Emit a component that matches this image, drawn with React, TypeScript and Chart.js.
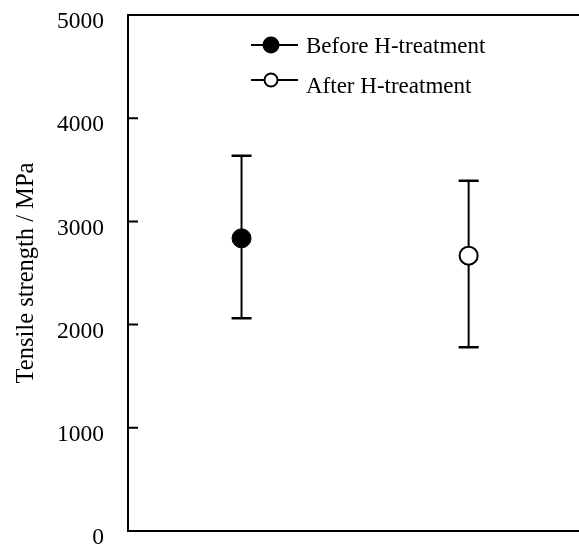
import React, { useEffect, useRef } from 'react';
import { Chart, registerables } from 'chart.js';

Chart.register(...registerables);

// ---- data ----
const seriesNames = ['Before H-treatment', 'After H-treatment'];
const seriesFilled = [true, false];
const xPositions = [1, 2];
const meanValues = [2836, 2668];
const upperValues = [3637, 3394];
const lowerValues = [2061, 1780];
const yTickValues = [0, 1000, 2000, 3000, 4000, 5000];
const yAxisTitle = 'Tensile strength / MPa';

const FONT = '"Liberation Serif", "Times New Roman", serif';
const FONT_SIZE = 23;

const customPlugin = {
  id: 'customDraw',
  beforeDatasetsDraw(chart: any) {
    const ctx = chart.ctx;
    const xs = chart.scales.x;
    const ys = chart.scales.y;
    ctx.save();
    ctx.strokeStyle = '#000';
    xPositions.forEach((xv, i) => {
      const px = xs.getPixelForValue(xv);
      const top = ys.getPixelForValue(upperValues[i]);
      const bot = ys.getPixelForValue(lowerValues[i]);
      ctx.lineWidth = 2;
      ctx.beginPath();
      ctx.moveTo(px, top);
      ctx.lineTo(px, bot);
      ctx.stroke();
      ctx.lineWidth = 2.5;
      ctx.beginPath();
      ctx.moveTo(px - 10, top);
      ctx.lineTo(px + 10, top);
      ctx.moveTo(px - 10, bot);
      ctx.lineTo(px + 10, bot);
      ctx.stroke();
    });
    ctx.restore();
  },
  afterDraw(chart: any) {
    const ctx = chart.ctx;
    const { left, right, top, bottom } = chart.chartArea;
    const ys = chart.scales.y;
    ctx.save();
    ctx.strokeStyle = '#000';
    ctx.lineWidth = 2;
    // frame: left, top, bottom
    ctx.beginPath();
    ctx.moveTo(right + 2, top);
    ctx.lineTo(left, top);
    ctx.lineTo(left, bottom);
    ctx.lineTo(right + 2, bottom);
    ctx.stroke();
    // inner tick marks
    ctx.beginPath();
    yTickValues.forEach((v) => {
      const py = ys.getPixelForValue(v);
      ctx.moveTo(left, py);
      ctx.lineTo(left + 10, py);
    });
    ctx.stroke();

    // axis title
    ctx.fillStyle = '#000';
    ctx.font = `24.5px ${FONT}`;
    ctx.save();
    ctx.translate(33, (top + bottom) / 2);
    ctx.rotate(-Math.PI / 2);
    ctx.textAlign = 'center';
    ctx.textBaseline = 'alphabetic';
    ctx.fillText(yAxisTitle, 0, 0);
    ctx.restore();

    // legend
    ctx.font = `${FONT_SIZE}px ${FONT}`;
    const rowY = [45, 80];
    const textY = [53, 93];
    seriesNames.forEach((name, i) => {
      const y = rowY[i];
      ctx.lineWidth = 2;
      ctx.beginPath();
      ctx.moveTo(left + 123, y);
      ctx.lineTo(left + 170, y);
      ctx.stroke();
      ctx.beginPath();
      ctx.arc(left + 143, y, seriesFilled[i] ? 7.5 : 6.5, 0, Math.PI * 2);
      ctx.fillStyle = seriesFilled[i] ? '#000' : '#fff';
      ctx.fill();
      ctx.stroke();
      ctx.fillStyle = '#000';
      ctx.textAlign = 'left';
      ctx.textBaseline = 'alphabetic';
      ctx.fillText(name, left + 178, textY[i]);
    });
    ctx.restore();
  },
};

export default function App() {
  const canvasRef = useRef<HTMLCanvasElement | null>(null);

  useEffect(() => {
    if (!canvasRef.current) return;
    const datasets = seriesNames.map((name, i) => ({
      label: name,
      data: [{ x: xPositions[i], y: meanValues[i] }],
      showLine: false,
      pointStyle: 'circle',
      pointRadius: seriesFilled[i] ? 9.5 : 9,
      pointHoverRadius: seriesFilled[i] ? 9.5 : 9,
      pointBorderWidth: seriesFilled[i] ? 1 : 2,
      pointBackgroundColor: seriesFilled[i] ? '#000' : '#fff',
      pointBorderColor: '#000',
      clip: false as any,
    }));
    const chart = new Chart(canvasRef.current, {
      type: 'scatter',
      data: { datasets },
      plugins: [customPlugin],
      options: {
        responsive: false,
        animation: false,
        events: [],
        layout: { autoPadding: false, padding: { top: 15, bottom: 13, left: 0, right: 0 } },
        plugins: {
          legend: { display: false },
          tooltip: { enabled: false },
          title: { display: false },
        },
        scales: {
          x: {
            type: 'linear',
            display: false,
            min: 0.5,
            max: 2.486,
          },
          y: {
            type: 'linear',
            min: 0,
            max: 5000,
            afterBuildTicks: (scale: any) => {
              scale.ticks = yTickValues.map((v) => ({ value: v }));
            },
            afterFit: (scale: any) => {
              scale.width = 128;
              scale.paddingTop = 0;
              scale.paddingBottom = 0;
            },
            grid: { display: false, drawTicks: false },
            border: { display: false },
            ticks: {
              color: '#000',
              padding: 24,
              labelOffset: 7,
              font: { family: FONT, size: 23.5, lineHeight: 1 },
              callback: (v: any) => String(v),
            },
            title: { display: false },
          },
        },
      },
    });
    return () => chart.destroy();
  }, []);

  return (
    <div style={{ position: 'fixed', left: 0, top: 0, width: 579, height: 544, background: '#fff' }}>
      <canvas ref={canvasRef} width={579} height={544} style={{ width: 579, height: 544, display: 'block' }} />
    </div>
  );
}
